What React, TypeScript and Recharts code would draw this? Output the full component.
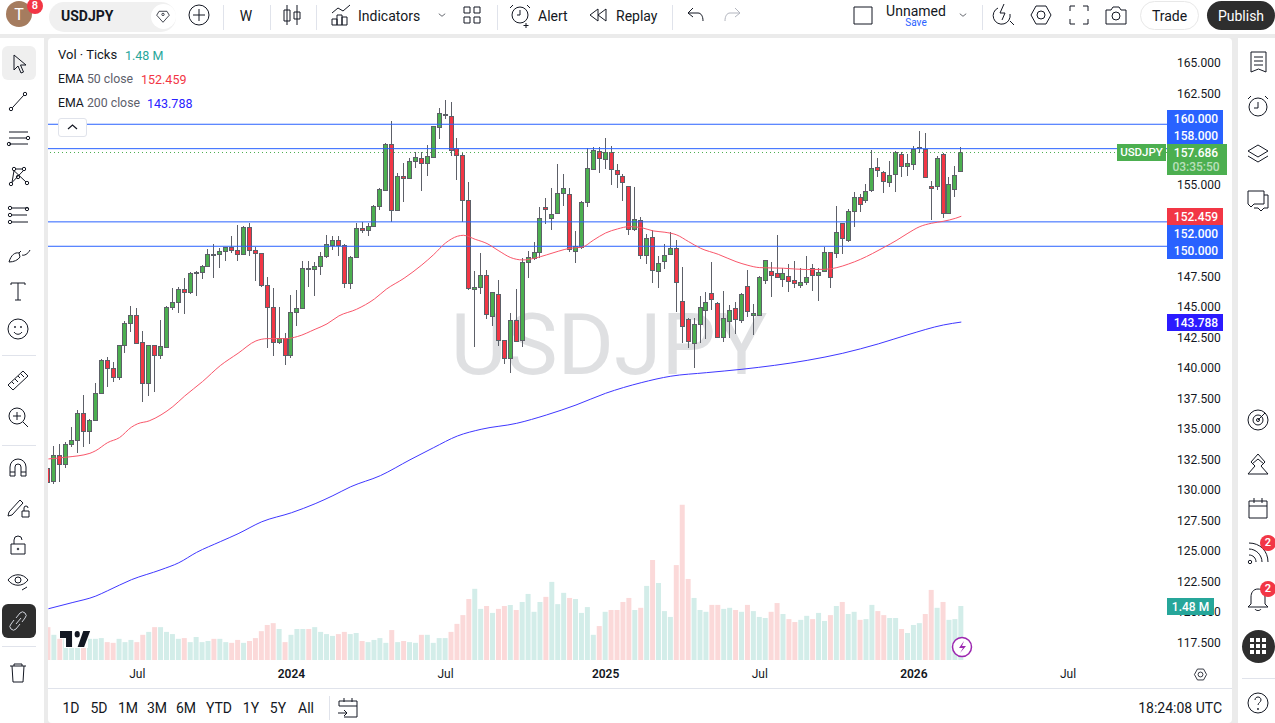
import React from 'react';
import { ComposedChart, Bar, Cell, Line, XAxis, YAxis, ReferenceLine } from 'recharts';

// weekly USDJPY
const OPEN = [131.86,130.74,132.87,132.13,133.77,134.10,136.31,134.84,135.74,137.95,140.66,140.0,139.32,141.89,143.69,144.34,142.13,138.77,141.89,141.12,141.78,145.0,145.41,146.48,146.23,147.84,147.87,148.36,149.35,149.35,149.59,149.95,149.67,149.35,151.56,149.67,149.42,146.80,145.0,142.13,142.46,141.07,144.59,144.92,148.22,148.17,148.36,149.24,150.14,150.49,150.14,147.02,149.10,151.48,151.31,151.64,153.28,154.65,158.36,152.95,155.74,155.63,156.97,157.27,156.80,157.35,159.75,160.79,160.71,158.09,157.46,153.77,146.48,146.64,147.62,144.26,146.07,142.30,140.82,143.94,142.30,148.69,149.07,149.51,153.2,152.35,152.71,154.40,154.26,149.65,149.97,153.61,156.37,157.79,157.19,157.76,156.23,155.74,154.92,151.39,152.19,149.26,150.74,147.95,148.77,149.34,149.84,145.49,144.02,142.05,143.61,144.75,146.15,145.33,142.54,143.85,144.92,143.99,146.72,144.34,144.37,147.21,147.95,147.79,147.30,147.54,147.21,146.86,147.05,148.20,147.62,147.95,149.51,149.43,151.89,150.49,152.87,154.02,153.77,154.59,156.47,156.12,155.25,155.90,157.54,156.55,156.72,158.03,157.97,154.95,154.92,157.54,152.70,154.73,156.15];
const HIGH = [132.6,133.64,133.77,133.99,135.19,136.59,137.82,135.85,138.77,140.74,140.93,140.52,141.91,143.88,145.11,144.92,143.06,141.91,141.91,143.96,145.08,146.61,146.67,147.43,147.87,147.95,148.47,149.78,150.19,149.84,149.97,150.85,151.75,151.67,151.94,149.97,149.45,147.5,146.56,145.05,142.87,146.01,146.41,148.80,148.80,148.69,149.51,150.93,150.87,150.85,150.16,149.18,151.94,151.97,151.94,153.36,154.78,158.44,160.27,155.98,156.80,157.21,157.73,157.71,158.28,159.89,161.31,161.99,161.83,158.88,157.71,155.25,147.98,149.45,148.06,146.25,147.24,142.35,144.51,146.48,149.02,149.62,150.36,153.22,153.93,154.75,156.75,155.93,154.75,151.26,153.74,158.03,158.14,158.14,158.88,158.22,156.75,155.90,154.95,154.86,152.38,151.04,151.31,149.21,150.16,151.20,150.49,148.28,144.15,144.10,145.90,146.23,148.69,145.4,146.31,145.16,145.46,146.20,148.06,145.25,147.54,148.85,148.69,150.93,148.2,148.52,148.80,148.20,149.21,148.52,148.25,149.97,149.55,153.31,151.94,153.06,154.48,154.26,155.08,157.89,157.21,156.15,156.99,157.82,157.70,157.54,158.22,159.45,159.28,155.36,157.40,157.67,155.68,156.61,158.11];
const LOW = [130.5,130.49,130.71,131.86,133.55,133.09,133.58,133.83,135.7,137.9,138.5,138.85,139.04,141.28,143.0,142.1,137.27,137.76,138.09,140.79,141.64,144.75,144.53,144.48,146.09,145.93,147.35,148.33,147.43,148.25,148.83,149.42,148.83,149.32,149.21,147.18,146.69,141.64,141.04,141.97,140.30,140.88,143.47,144.9,146.69,145.96,147.65,149.02,149.70,149.21,146.56,146.53,149.02,151.12,150.87,151.6,153.01,154.51,151.97,152.87,153.66,155.55,156.42,154.56,155.79,157.21,158.83,160.41,157.43,155.46,151.97,146.42,141.78,146.09,144.04,143.5,141.86,140.36,139.65,142.13,141.72,147.43,148.88,149.07,151.83,151.34,152.62,153.31,149.56,148.66,149.75,153.25,156.3,156.04,156.34,155.05,154.81,153.74,150.96,151.28,148.99,148.58,147.02,146.61,148.11,149.3,144.65,142.10,141.69,140.0,142.05,142.43,144.78,142.5,142.19,142.46,142.81,143.74,144.24,142.76,144.3,146.94,145.87,147.44,146.69,146.28,146.61,146.61,146.83,146.37,145.55,147.9,146.61,149.07,149.37,150.33,151.61,152.81,153.52,154.48,155.65,154.37,154.84,154.48,155.65,155.76,156.23,157.62,155.62,152.16,154.62,152.34,152.65,154.07,156.1];
const CLOSE = [130.71,132.87,132.13,133.77,134.10,136.31,134.84,135.74,137.95,140.66,140.0,139.32,141.89,143.69,144.34,142.1,138.77,141.89,141.12,141.80,145.0,145.41,146.48,146.23,147.79,147.9,148.36,149.35,149.32,149.59,149.92,149.70,149.35,151.56,149.67,149.42,146.80,145.0,142.13,142.46,141.07,144.59,144.92,148.20,148.19,148.36,149.24,150.16,150.49,150.14,147.02,149.10,151.48,151.31,151.64,153.28,154.67,158.36,152.95,155.74,155.63,156.97,157.30,156.80,157.38,159.84,160.90,160.85,157.87,157.46,153.77,146.56,146.64,147.62,144.43,146.23,142.30,140.82,143.94,142.21,148.69,149.10,149.51,152.30,153.03,152.62,154.34,154.75,149.75,150.05,153.66,156.39,157.87,157.27,157.71,156.31,155.96,155.25,151.39,152.27,149.26,150.66,148.03,148.61,149.26,149.84,147.05,143.44,142.21,143.66,145.0,145.41,145.66,142.54,144.10,144.81,144.07,146.07,144.67,144.51,147.46,148.85,147.68,147.46,147.79,147.13,146.97,147.05,147.46,147.68,147.92,149.51,147.46,151.15,150.66,152.87,154.02,153.44,154.51,156.39,156.22,155.33,155.82,157.70,156.55,156.80,157.97,158.11,155.70,154.75,157.21,152.70,155.08,155.87,157.686];
// tick volume, millions
const VOLUME = [.90,.69,.58,.58,.50,.58,.60,.58,.58,.60,.49,.47,.58,.49,.55,.49,.69,.77,.90,.90,.77,.71,.58,.60,.49,.63,.49,.52,.58,.58,.49,.47,.55,.47,.52,.60,.79,.96,1.01,.85,.49,.69,.85,.85,.85,.90,.77,.71,.66,.71,.77,.71,.74,.52,.49,.55,.60,.47,.82,.49,.52,.49,.47,.69,.69,.47,.60,.60,.77,.99,1.23,1.67,1.95,1.40,1.48,1.29,1.40,1.48,1.51,1.37,1.59,1.81,1.32,1.59,1.73,2.14,1.53,1.84,1.70,1.67,1.29,1.45,.69,.93,1.32,1.37,1.37,1.59,1.70,1.37,1.43,2.03,2.74,2.11,1.34,1.18,2.60,4.25,2.22,1.70,1.37,1.32,1.51,1.51,1.40,1.43,1.37,1.32,1.51,1.34,1.18,1.15,1.32,1.56,1.26,1.12,1.04,1.10,1.21,1.12,1.29,1.07,1.23,1.48,1.59,1.26,1.32,1.10,1.12,1.51,1.34,1.23,1.15,1.15,.85,.74,.96,1.01,1.26,1.92,1.43,1.59,1.10,1.12,1.48];

// [week, value] pairs read along each average
const EMA50 = [[0,132.57],[3,132.71],[7,133.03],[8,133.25],[10,133.91],[12,134.32],[14,135.17],[15,135.44],[17,135.69],[19,136.18],[21,136.86],[23,137.73],[26,138.91],[29,140.22],[32,141.23],[35,142.24],[37,142.43],[40,142.43],[42,142.60],[45,143.20],[47,143.64],[49,144.29],[52,144.84],[55,145.68],[57,146.48],[60,147.38],[63,148.47],[65,149.32],[67,150.27],[69,150.82],[70,150.90],[72,150.57],[74,150.22],[76,149.62],[78,149.07],[80,148.88],[82,149.02],[84,149.29],[86,149.59],[88,149.84],[90,149.92],[92,150.52],[94,151.09],[96,151.42],[98,151.61],[100,151.53],[102,151.26],[104,151.15],[106,150.93],[108,150.38],[110,149.84],[113,149.34],[116,148.74],[118,148.44],[120,148.25],[124,148.20],[128,148.09],[131,148.11],[133,148.25],[135,148.55],[137,148.93],[139,149.40],[141,149.92],[143,150.46],[145,151.07],[147,151.61],[149,151.89],[151,152.05],[153,152.29],[154,152.459]];
const EMA200 = [[0,120.29],[4,120.79],[8,121.33],[10,121.77],[14,122.67],[19,123.49],[22,124.06],[25,124.91],[29,125.79],[32,126.44],[36,127.42],[41,128.16],[45,128.90],[48,129.56],[51,130.29],[56,131.2],[61,132.5],[65,133.5],[69,134.45],[73,135.0],[79,135.49],[84,136.17],[89,136.99],[94,137.95],[100,138.82],[105,139.35],[111,139.64],[117,139.92],[128,140.65],[134,141.23],[140,142.0],[145,142.75],[151,143.55],[154,143.788]];

// 150, 152.5, 157.5 and 160 sit behind the price tags in the picture, so they are left out
const PRICE_TICKS = [117.5,120,122.5,125,127.5,130,132.5,135,137.5,140,142.5,145,147.5,155,162.5,165];
const TIME_TICKS = [15,41,67,94,120,146,172];
const TIME_LABELS = ['Jul','2024','Jul','2025','Jul','2026','Jul'];
const LEVELS = [160,158,152,150];
const LAST_PRICE = 157.686;

const rows = OPEN.map((open, i) => ({
  week: i,
  open,
  high: HIGH[i],
  low: LOW[i],
  close: CLOSE[i],
  range: [LOW[i], HIGH[i]],
  volume: VOLUME[i],
}));
const ema50Rows = EMA50.map(([week, ema50]) => ({ week, ema50 }));
const ema200Rows = EMA200.map(([week, ema200]) => ({ week, ema200 }));

const FONT = 'Roboto, "Noto Sans", sans-serif';
const INK = '#131722';
const UP = '#4CAF50';
const DOWN = '#F23645';
const WICK = '#5D6068';
const WEEK_DOMAIN = [-0.067, 188.7];

function CandleShape({ x, y, width, height, payload }) {
  const { open, close, high, low } = payload;
  const unit = height / (high - low);
  const yOf = (p) => y + (high - p) * unit;
  const cx = Math.floor(x + width / 2) + 0.5;
  const top = Math.round(yOf(Math.max(open, close))) + 0.5;
  const bottom = Math.max(top + 1, Math.round(yOf(Math.min(open, close))) + 0.5);
  return (
    <g shapeRendering="crispEdges">
      <line x1={cx} x2={cx} y1={y} y2={y + height} stroke={WICK} />
      <rect x={cx - 2} y={top} width={4} height={bottom - top} fill={close >= open ? UP : DOWN} stroke={WICK} />
    </g>
  );
}

function TimeTick({ x, y, payload }) {
  const label = TIME_LABELS[TIME_TICKS.indexOf(payload.value)];
  const isYear = label !== 'Jul';
  return (
    <text x={x} y={y + 10} textAnchor="middle" fontFamily={FONT} fontSize={12} fontWeight={isYear ? 600 : 400} fill={INK}>
      {label}
    </text>
  );
}

function Txt({ x, y, size = 14, color = INK, weight = 400, anchor = 'left', children }) {
  const shift = anchor === 'left' ? '0' : anchor === 'center' ? '-50%' : '-100%';
  return (
    <div style={{ position: 'absolute', left: x, top: y, transform: `translate(${shift},-50%)`, fontSize: size, color, fontWeight: weight, whiteSpace: 'nowrap', lineHeight: 1.2, fontFamily: FONT }}>
      {children}
    </div>
  );
}

function Box({ x, y, w, h, bg, r = 0, border, z }) {
  return <div style={{ position: 'absolute', left: x, top: y, width: w, height: h, background: bg, borderRadius: r, border, boxSizing: 'border-box', zIndex: z }} />;
}

const dot = (x, y, r = 1.7) => `M${x - r} ${y}a${r} ${r} 0 1 0 ${2 * r} 0a${r} ${r} 0 1 0 ${-2 * r} 0`;
const ICONS = {
  cursor: 'M10 6v15l4-4 3 7 2.5-1-3-7H22z',
  trend: `${dot(7, 22)}${dot(21, 7)}M8.3 20.8 19.8 8.2`,
  fib: `M5 8h19M5 14h17M5 20h19${dot(24, 14)}${dot(5, 20)}`,
  web: `${dot(7, 22)}${dot(10, 7)}${dot(20, 7)}${dot(23, 21)}${dot(14, 15)}M8 20.5 10 8.7 22 20M7.5 21 19.5 8.5M11.5 7h7`,
  forecast: `${dot(6, 7)}${dot(6, 14)}${dot(6, 21)}${dot(23, 8)}M8 7h16M8 21h16M8 14h15`,
  brush: 'M5 23c2-7 6-10 10-9l1 4c-2 3-6 5-11 5zM18 16c2 1 6-1 8-5M15 14l2-2',
  text: 'M7 8V6h14v2M14 6v17M11 23h6',
  smile: `M24 14a10 10 0 1 1-20 0a10 10 0 1 1 20 0M10 17c2 3 6 3 8 0${dot(11, 12, .6)}${dot(17, 12, .6)}`,
  ruler: 'M4 19 19 5l5 5L9 24zM8 16l2 2M11 13l3 3M14 10l2 2M17 8l3 3',
  zoom: `M21 13a8 8 0 1 1-16 0a8 8 0 1 1 16 0M13 9v8M9 13h8M19 19l5 5`,
  magnet: 'M6 22V13a8 8 0 0 1 16 0v9h-5v-9a3 3 0 0 0-6 0v9zM6 18h5M17 18h5',
  pencil: 'M5 19 16 7l3 3L8 22l-4 1zM18 18h7v6h-7zM20 18v-3a2 2 0 0 1 4 0',
  lock: `M7 13h14v10H7zM10 13V9a4 4 0 0 1 8 0${dot(14, 18, .8)}`,
  eye: `M4 13c5-7 15-7 20 0c-5 7-15 7-20 0${dot(14, 13, 3)}M18 23l5-3`,
  link: 'M12 17l5-6M10 13l-3 4a3.500 3.500 0 0 0 5 5l4-5M18 15l3-4a3.500 3.500 0 0 0-5-5l-4 5',
  trash: 'M6 8h16M10 8V6h8v2M8 8l1 16h10l1-16',
  note: 'M7 4h15v20l-7.500-3L7 24zM10 9h9M10 13h9M10 17h9',
  clock: 'M23 15a9 9 0 1 1-18 0a9 9 0 1 1 18 0M14 10v6h-4M4 7l3-3M24 7l-3-3',
  layers: 'M14 5l10 6-10 6-10-6zM4 16l10 6 10-6',
  chat: 'M4 5h16v13H10l-3 3-3-3zM20 9h4v13h-4l-3 3-3-3h-4',
  radar: `M24 14a10 10 0 1 1-20 0a10 10 0 1 1 20 0M19 14a5 5 0 1 1-10 0a5 5 0 1 1 10 0${dot(14, 14, 1.5)}M14 14l7-7`,
  ideas: 'M14 4l7 8-4 4 7 8H4l7-8-4-4zM8 14l6-5 6 5',
  calendar: 'M5 7h18v17H5zM5 12h18M10 4v5M18 4v5',
  signal: `${dot(6, 23)}M5 16c4 0 7 3 7 7M5 10c7 0 13 6 13 13M5 4c11 0 19 8 19 19`,
  bell: 'M14 4c-5 0-7 4-7 8v7l-3 3h20l-3-3v-7c0-4-2-8-7-8zM11 24c1 2 5 2 6 0',
  help: `M24 14a10 10 0 1 1-20 0a10 10 0 1 1 20 0M11 11c0-4 6-4 6 0c0 2-3 3-3 5${dot(14, 20, .6)}`,
  plus: 'M24 14a10 10 0 1 1-20 0a10 10 0 1 1 20 0M14 8v12M8 14h12',
  candles: 'M9 4v20M19 4v20M6 9h6v11H6zM16 11h6v7h-6z',
  indicators: 'M4 12l6-5 5 3 7-6M4 24v-6h5v6zM9 24v-10h5v10zM14 24v-8h5v8z',
  grid: 'M6 6h6v6H6zM16 6h6v6h-6zM6 16h6v6H6zM16 16h6v6h-6z',
  alert: 'M22 14a8 8 0 1 1-16 0a8 8 0 1 1 16 0M14 9v5h-3M4 7l3-3M24 7l-3-3M20 22v5M17.500 24.500h5',
  replay: 'M14 8v12l-8-6zM22 8v12l-8-6z',
  undo: 'M7 12l5-5M7 12l5 4M7 12h10c3 0 5 3 5 8',
  redo: 'M21 12l-5-5M21 12l-5 4M21 12H11c-3 0-5 3-5 8',
  square: 'M5 6h18v17H5z',
  quick: 'M21 20l4 4M15 3l-4 9h5l-3 7M9 7a8.500 8.500 0 1 0 12 6',
  hex: `M9 5h10l5 9-5 9H9l-5-9zM18 14a4 4 0 1 1-8 0a4 4 0 1 1 8 0`,
  full: 'M5 10V5h5M18 5h5v5M5 18v5h5M23 18v5h-5',
  camera: 'M4 9h5l2-3h6l2 3h5v14H4zM18 15a4 4 0 1 1-8 0a4 4 0 1 1 8 0',
  range: 'M5 8h18v16H10M5 8v5h18M10 5v4M18 5v4M4 20h9M10 17l3 3-3 3',
  diamond: `M9 8h10l3 5-8 9-8-9z${dot(14, 12, 1.5)}`,
  chevron: 'M9 12l5 4 5-4',
};

function Ico({ name, x, y, size = 28, color = INK, sw = 1 }) {
  return (
    <svg width={size} height={size} viewBox="0 0 28 28" style={{ position: 'absolute', left: x - size / 2, top: y - size / 2 }}>
      <path d={ICONS[name]} fill="none" stroke={color} strokeWidth={sw} />
    </svg>
  );
}

const LEFT_TOOLS = [['cursor', 63], ['trend', 101], ['fib', 138], ['web', 176], ['forecast', 215], ['brush', 253], ['text', 291], ['smile', 329], ['ruler', 380], ['zoom', 417], ['magnet', 468], ['pencil', 507], ['lock', 545], ['eye', 581], ['trash', 672]];
const RIGHT_TOOLS = [['note', 62], ['clock', 106], ['layers', 154], ['chat', 200], ['radar', 420], ['ideas', 464], ['calendar', 508], ['signal', 553], ['bell', 599], ['help', 703]];
const TOP_ICONS = [['plus', 199], ['candles', 292], ['indicators', 342], ['grid', 472], ['alert', 520], ['replay', 598], ['undo', 695], ['square', 863], ['quick', 1003], ['hex', 1041], ['full', 1079], ['camera', 1116]];
const TOP_SEPARATORS = [223, 270, 316, 497, 672, 982];
const RANGES = [['1D', 71], ['5D', 99], ['1M', 128], ['3M', 157], ['6M', 186], ['YTD', 219], ['1Y', 251], ['5Y', 278], ['All', 306]];

function Tag({ x, y, w, h, bg, text, size = 12, sub, textX }) {
  const mid = textX ?? x + w / 2;
  return (
    <>
      <Box x={x} y={y} w={w} h={h} bg={bg} />
      <Txt x={mid} y={y + (sub ? 9 : h / 2)} size={size} color="#fff" weight={500} anchor="center">{text}</Txt>
      {sub && <Txt x={mid} y={y + 23} size={size} color="rgba(255,255,255,.62)" weight={500} anchor="center">{sub}</Txt>}
    </>
  );
}

function Badge({ x, y, text }) {
  return (
    <>
      <div style={{ position: 'absolute', left: x - 8, top: y - 8, width: 16, height: 16, borderRadius: 8, background: DOWN }} />
      <Txt x={x} y={y} size={11} color="#fff" weight={600} anchor="center">{text}</Txt>
    </>
  );
}

export default function App() {
  return (
    <div style={{ position: 'absolute', left: 0, top: 0, width: 1275, height: 723, overflow: 'hidden', background: '#EBEBEB', fontFamily: FONT }}>
      <Box x={48} y={38} w={1184} h={685} bg="#fff" r={4} />
      <Txt x={609} y={345} size={86} color="#DFE0E2" anchor="center">USDJPY</Txt>

      <div style={{ position: 'absolute', left: 0, top: 0 }}>
        <ComposedChart
          width={1275}
          height={723}
          data={rows}
          margin={{ top: 38, right: 48, bottom: 35, left: 48 }}
          barGap={0}
        >
          <XAxis
            xAxisId="time"
            dataKey="week"
            type="number"
            domain={WEEK_DOMAIN}
            allowDataOverflow
            ticks={TIME_TICKS}
            interval={0}
            height={28}
            tick={TimeTick}
            tickLine={false}
            axisLine={false}
          />
          <XAxis xAxisId="candles" dataKey="week" type="number" domain={WEEK_DOMAIN} allowDataOverflow hide height={0} />
          <YAxis
            yAxisId="price"
            orientation="right"
            domain={[116.09, 167.07]}
            allowDataOverflow
            ticks={PRICE_TICKS}
            interval={0}
            width={60}
            tickFormatter={(v) => v.toFixed(3)}
            tick={{ fontSize: 12, fill: INK, fontFamily: FONT, dy: -0.5 }}
            tickMargin={4}
            tickLine={false}
            axisLine={false}
          />
          <YAxis yAxisId="volume" domain={[0, 17.04]} allowDataOverflow hide />

          <Bar xAxisId="time" yAxisId="volume" dataKey="volume" barSize={5} isAnimationActive={false}>
            {rows.map((row) => (
              <Cell key={row.week} fill={row.close >= row.open ? '#D3EDE9' : '#FBD9D9'} />
            ))}
          </Bar>

          {LEVELS.map((level) => (
            <ReferenceLine key={level} xAxisId="time" yAxisId="price" y={level} stroke="#2962FF" strokeWidth={1} />
          ))}
          <ReferenceLine xAxisId="time" yAxisId="price" y={LAST_PRICE} stroke={UP} strokeWidth={1} strokeDasharray="1 3" />

          <Bar xAxisId="candles" yAxisId="price" dataKey="range" barSize={5} shape={CandleShape} isAnimationActive={false} />

          <Line xAxisId="time" yAxisId="price" data={ema50Rows} dataKey="ema50" type="monotone" stroke="#F9566A" strokeWidth={1} dot={false} isAnimationActive={false} />
          <Line xAxisId="time" yAxisId="price" data={ema200Rows} dataKey="ema200" type="monotone" stroke="#3F37FF" strokeWidth={1} dot={false} isAnimationActive={false} />
        </ComposedChart>
      </div>

      {/* legend */}
      <Txt x={58} y={55} size={13}>Vol · Ticks</Txt>
      <Txt x={125} y={55} size={12.5} color="#26A69A">1.48 M</Txt>
      <Txt x={58} y={79} size={12.3}>EMA <span style={{ color: '#5D606B' }}>50 close</span></Txt>
      <Txt x={141} y={79} size={12.5} color={DOWN}>152.459</Txt>
      <Txt x={58} y={103} size={12.3}>EMA <span style={{ color: '#5D606B' }}>200 close</span></Txt>
      <Txt x={147} y={103} size={12.5} color="#2A22FF">143.788</Txt>
      <Box x={58} y={118} w={29} h={19} bg="#fff" r={3} border="1px solid #E0E3EB" />
      <svg width={29} height={19} style={{ position: 'absolute', left: 58, top: 118 }}>
        <path d="M10 11l4.500-4 4.500 4" fill="none" stroke={INK} strokeWidth={1.2} />
      </svg>

      {/* price labels */}
      <Tag x={1167} y={110} w={56} h={17} bg="#2962FF" text="160.000" textX={1196} />
      <Tag x={1167} y={127} w={56} h={17} bg="#2962FF" text="158.000" textX={1196} />
      <Tag x={1117} y={144} w={49} h={17} bg={UP} text="USDJPY" size={11.5} />
      <Tag x={1167} y={144} w={60} h={31} bg={UP} text="157.686" sub="03:35:50" textX={1196} />
      <Tag x={1167} y={208} w={56} h={17} bg={DOWN} text="152.459" textX={1196} />
      <Tag x={1167} y={225} w={56} h={17} bg="#2962FF" text="152.000" textX={1196} />
      <Tag x={1167} y={242} w={56} h={17} bg="#2962FF" text="150.000" textX={1196} />
      <Tag x={1167} y={314} w={56} h={17} bg="#2B1BFF" text="143.788" textX={1196} />
      <Tag x={1167} y={598} w={47} h={17} bg="#26A69A" text="1.48 M" />

      {/* corner marks */}
      <Box x={64} y={625} w={24} h={23} bg="#fff" />
      <svg width={31} height={16} viewBox="0 6 36 15" preserveAspectRatio="none" style={{ position: 'absolute', left: 60, top: 631 }}>
        <path d="M14 6H0v6.500h7V21h7V6ZM28 21h-7.500l6.500-15h8L28 21ZM20 12a3 3 0 1 0 0-6 3 3 0 0 0 0 6Z" fill="#131722" />
      </svg>
      <svg width={22} height={22} style={{ position: 'absolute', left: 951, top: 636 }}>
        <circle cx={11} cy={11} r={9.5} fill="#fff" stroke="#9C27B0" strokeWidth={1.5} />
        <path d="M13 5l-5 7h4l-3 5 6-7h-4z" fill="#9C27B0" />
      </svg>
      <Ico name="hex" x={1200} y={674} size={17} sw={1.4} />

      {/* top bar */}
      <Box x={0} y={0} w={1275} h={34} bg="#fff" />
      <div style={{ position: 'absolute', left: 6, top: 1, width: 26, height: 26, borderRadius: 13, background: '#A57C5F' }} />
      <Txt x={19} y={15} size={16} color="#fff" anchor="center">T</Txt>
      <Badge x={35} y={6} text="8" />
      <Box x={49} y={2} w={127} h={30} bg="#F0F0F0" r={15} />
      <Txt x={61} y={16} size={14} weight={700}>USDJPY</Txt>
      <div style={{ position: 'absolute', left: 151, top: 4, width: 25, height: 25, borderRadius: 13, background: '#fff' }} />
      <Ico name="diamond" x={163} y={16} size={22} />
      {TOP_ICONS.map(([name, x]) => <Ico key={name} name={name} x={x} y={15} />)}
      <Ico name="redo" x={733} y={15} color="#B2B5BE" />
      <Ico name="chevron" x={442} y={15} size={18} />
      <Ico name="chevron" x={963} y={15} size={18} />
      {TOP_SEPARATORS.map((x) => <Box key={x} x={x} y={5} w={1} h={25} bg="#E0E3EB" />)}
      <Txt x={246} y={16} anchor="center">W</Txt>
      <Txt x={358} y={16}>Indicators</Txt>
      <Txt x={538} y={16}>Alert</Txt>
      <Txt x={616} y={16}>Replay</Txt>
      <Txt x={916} y={11} anchor="center">Unnamed</Txt>
      <Txt x={916} y={23} size={10} color="#2962FF" anchor="center">Save</Txt>
      <Box x={1140} y={1} w={59} h={29} bg="#fff" r={15} border="1px solid #E8E8E8" />
      <Txt x={1169.5} y={16} anchor="center">Trade</Txt>
      <Box x={1207} y={1} w={68} h={29} bg="#2E2E2E" r={15} />
      <Txt x={1241} y={16} color="#fff" anchor="center">Publish</Txt>

      {/* left toolbar */}
      <Box x={0} y={38} w={44} h={685} bg="#fff" />
      <Box x={44} y={34} w={4} h={689} bg="#EBEBEB" />
      <Box x={2} y={46} w={34} h={34} bg="#EFEFEF" r={6} />
      <Box x={2} y={604} w={34} h={34} bg="#2E2E2E" r={6} />
      <Ico name="link" x={18} y={621} color="#D1D4DC" />
      {LEFT_TOOLS.map(([name, y]) => <Ico key={name} name={name} x={18} y={y} />)}
      {[355, 445, 646].map((y) => <Box key={y} x={2} y={y} w={34} h={1} bg="#E0E3EB" />)}

      {/* right toolbar */}
      <Box x={1232} y={34} w={6} h={689} bg="#EBEBEB" />
      <Box x={1238} y={38} w={37} h={685} bg="#fff" />
      {RIGHT_TOOLS.map(([name, y]) => <Ico key={name} name={name} x={1258} y={y} />)}
      <div style={{ position: 'absolute', left: 1242, top: 630, width: 33, height: 33, borderRadius: 17, background: '#2E2E2E' }} />
      <svg width={33} height={33} style={{ position: 'absolute', left: 1242, top: 630 }}>
        {[10, 16, 22].map((a) => [10, 16, 22].map((b) => <rect key={`${a}${b}`} x={a - 2} y={b - 2} width={4} height={4} fill="#fff" />))}
      </svg>
      <Badge x={1268} y={543} text="2" />
      <Badge x={1268} y={589} text="2" />
      <Box x={1242} y={678} w={33} h={1} bg="#E0E3EB" />

      {/* bottom bar */}
      <Box x={48} y={688} w={1184} h={1} bg="#E0E3EB" />
      {RANGES.map(([label, x]) => <Txt key={label} x={x} y={708} anchor="center">{label}</Txt>)}
      <Box x={329} y={696} w={1} h={24} bg="#E0E3EB" />
      <Ico name="range" x={348} y={707} />
      <Txt x={1222} y={708} anchor="right">18:24:08 UTC</Txt>
    </div>
  );
}
